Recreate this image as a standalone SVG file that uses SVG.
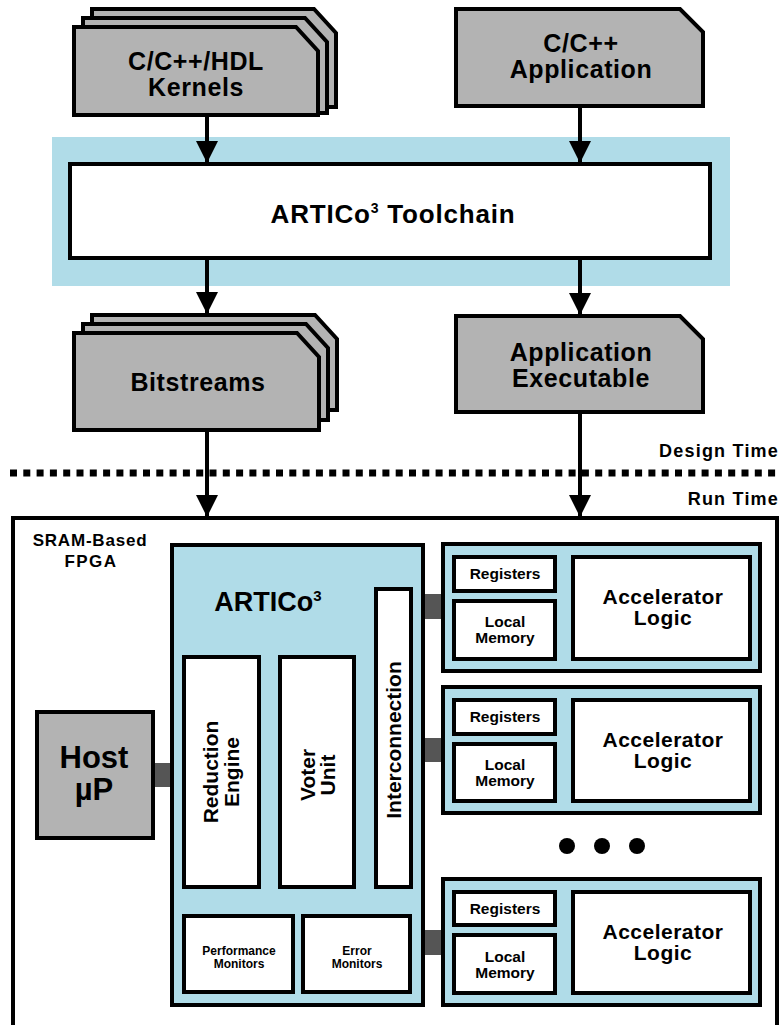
<svg xmlns="http://www.w3.org/2000/svg" width="781" height="1025" viewBox="0 0 781 1025">
<style>
text{font-family:"Liberation Sans",Arial,sans-serif;font-weight:bold;fill:#000;text-anchor:middle}
.doc{fill:#b3b3b3;stroke:#000;stroke-width:4;stroke-linejoin:miter}
.wb{fill:#fff;stroke:#000;stroke-width:4}
.bb{fill:#b0dce8;stroke:#000;stroke-width:4}
.gb{fill:#b3b3b3;stroke:#000;stroke-width:4}
.bar{fill:#555}
.ln{stroke:#000;stroke-width:4;fill:none}
.big{font-size:25px;letter-spacing:0.6px}
.acc{font-size:21px;letter-spacing:0.5px}
.reg{font-size:15.5px}
.mon{font-size:12px}
.rot{font-size:21px}
.tm{font-size:18px;letter-spacing:1.2px;text-anchor:end}
</style>
<defs>
<marker id="ah" markerUnits="userSpaceOnUse" markerWidth="24" markerHeight="22" viewBox="0 0 24 22" refX="22" refY="11" orient="auto">
<path d="M0,0 L22,11 L0,22 Z" fill="#000"/>
</marker>
</defs>

<!-- toolchain band -->
<g id="toolchain">
<rect x="52" y="137" width="678" height="149" fill="#b0dce8"/>
<rect class="wb" x="70" y="164" width="640" height="94"/>
<text x="393" y="223" style="font-size:26px;letter-spacing:0.8px">ARTICo<tspan dy="-10" style="font-size:14px">3</tspan><tspan dy="10"> Toolchain</tspan></text>
</g>

<!-- Kernels -->
<g id="kernels">
<path class="doc" d="M92,9 H314 L336,33 V107 H92 Z"/>
<path class="doc" d="M83,18 H305 L327,42 V113 H83 Z"/>
<path class="doc" d="M74,27 H296 L318,51 V115 H74 Z"/>
<text class="big" x="196" y="70">C/C++/HDL</text>
<text class="big" x="196" y="96">Kernels</text>
</g>

<!-- Application -->
<g id="application">
<path class="doc" d="M456,9 H680 L703,32 V106 H456 Z"/>
<text class="big" x="581" y="52">C/C++</text>
<text class="big" x="581" y="78">Application</text>
</g>

<!-- Bitstreams -->
<g id="bitstreams">
<path class="doc" d="M92,315 H315 L337,339 V410 H92 Z"/>
<path class="doc" d="M83,324 H306 L328,348 V420 H83 Z"/>
<path class="doc" d="M74,333 H297 L319,357 V430 H74 Z"/>
<text class="big" x="198" y="391">Bitstreams</text>
</g>

<!-- Application Executable -->
<g id="executable">
<path class="doc" d="M456,316 H680 L703,339 V412 H456 Z"/>
<text class="big" x="581" y="361">Application</text>
<text class="big" x="581" y="387">Executable</text>
</g>

<!-- design/run time separator -->
<g id="separator">
<line x1="10" y1="473" x2="781" y2="473" stroke="#000" stroke-width="7" stroke-dasharray="7 6.3"/>
<text class="tm" x="779" y="457">Design Time</text>
<text class="tm" x="779" y="505">Run Time</text>
</g>

<!-- FPGA -->
<g id="fpga">
<rect class="wb" x="13" y="518" width="764" height="520"/>
<text x="90" y="546" style="font-size:17px;letter-spacing:0.8px">SRAM-Based</text>
<text x="91" y="567" style="font-size:17px;letter-spacing:1.5px">FPGA</text>
</g>

<!-- bars -->
<g id="links">
<rect class="bar" x="153" y="763" width="21" height="24"/>
<rect class="bar" x="411" y="594" width="33" height="25"/>
<rect class="bar" x="411" y="738" width="33" height="24"/>
<rect class="bar" x="411" y="930" width="33" height="25"/>
</g>

<!-- Host -->
<g id="host">
<rect class="gb" x="37" y="712" width="116" height="126"/>
<text x="94" y="768" style="font-size:31px">Host</text>
<text x="94" y="800" style="font-size:31px">µP</text>
</g>

<!-- ARTICo3 -->
<g id="artico">
<rect class="bb" x="172" y="545" width="251" height="460"/>
<text x="268" y="611" style="font-size:27px">ARTICo<tspan dy="-10" style="font-size:15px">3</tspan></text>
</g>
<g id="reduction">
<rect class="wb" x="184" y="657" width="75" height="230"/>
<text class="rot" transform="translate(218,772) rotate(-90)">Reduction</text>
<text class="rot" transform="translate(239,772) rotate(-90)">Engine</text>
</g>
<g id="voter">
<rect class="wb" x="280" y="657" width="74" height="230"/>
<text class="rot" transform="translate(315,775) rotate(-90)">Voter</text>
<text class="rot" transform="translate(335,775) rotate(-90)">Unit</text>
</g>
<g id="interconnection">
<rect class="wb" x="376" y="589" width="35" height="298"/>
<text class="rot" transform="translate(401,740) rotate(-90)">Interconnection</text>
</g>
<g id="perf">
<rect class="wb" x="184" y="916" width="109" height="76"/>
<text class="mon" x="239" y="955">Performance</text>
<text class="mon" x="239" y="968">Monitors</text>
</g>
<g id="errmon">
<rect class="wb" x="303" y="916" width="107" height="76"/>
<text class="mon" x="357" y="955">Error</text>
<text class="mon" x="357" y="968">Monitors</text>
</g>

<!-- Accelerator modules -->
<g id="acc1">
<rect class="bb" x="443" y="544" width="317" height="127"/>
<rect class="wb" x="454" y="557" width="101" height="34"/>
<rect class="wb" x="454" y="601" width="101" height="58"/>
<rect class="wb" x="573" y="557" width="177" height="102"/>
<text class="reg" x="505" y="579">Registers</text>
<text class="reg" x="505" y="627">Local</text>
<text class="reg" x="505" y="643">Memory</text>
<text class="acc" x="663" y="604">Accelerator</text>
<text class="acc" x="663" y="625">Logic</text>
</g>
<g id="acc2">
<rect class="bb" x="443" y="687" width="317" height="126"/>
<rect class="wb" x="454" y="700" width="101" height="34"/>
<rect class="wb" x="454" y="744" width="101" height="57"/>
<rect class="wb" x="573" y="700" width="177" height="101"/>
<text class="reg" x="505" y="722">Registers</text>
<text class="reg" x="505" y="770">Local</text>
<text class="reg" x="505" y="786">Memory</text>
<text class="acc" x="663" y="747">Accelerator</text>
<text class="acc" x="663" y="768">Logic</text>
</g>
<g id="dots">
<circle cx="567" cy="846" r="8"/>
<circle cx="602" cy="846" r="8"/>
<circle cx="637" cy="846" r="8"/>
</g>
<g id="acc3">
<rect class="bb" x="443" y="879" width="317" height="126"/>
<rect class="wb" x="454" y="892" width="101" height="33"/>
<rect class="wb" x="454" y="935" width="101" height="58"/>
<rect class="wb" x="573" y="892" width="177" height="101"/>
<text class="reg" x="505" y="914">Registers</text>
<text class="reg" x="505" y="962">Local</text>
<text class="reg" x="505" y="978">Memory</text>
<text class="acc" x="663" y="939">Accelerator</text>
<text class="acc" x="663" y="960">Logic</text>
</g>

<!-- connectors -->
<g id="connectors">
<line class="ln" x1="207" y1="117" x2="207" y2="163" marker-end="url(#ah)"/>
<line class="ln" x1="580" y1="108" x2="580" y2="163" marker-end="url(#ah)"/>
<line class="ln" x1="207" y1="260" x2="207" y2="314" marker-end="url(#ah)"/>
<line class="ln" x1="580" y1="260" x2="580" y2="315" marker-end="url(#ah)"/>
<line class="ln" x1="207" y1="432" x2="207" y2="517" marker-end="url(#ah)"/>
<line class="ln" x1="580" y1="414" x2="580" y2="517" marker-end="url(#ah)"/>
</g>
</svg>
